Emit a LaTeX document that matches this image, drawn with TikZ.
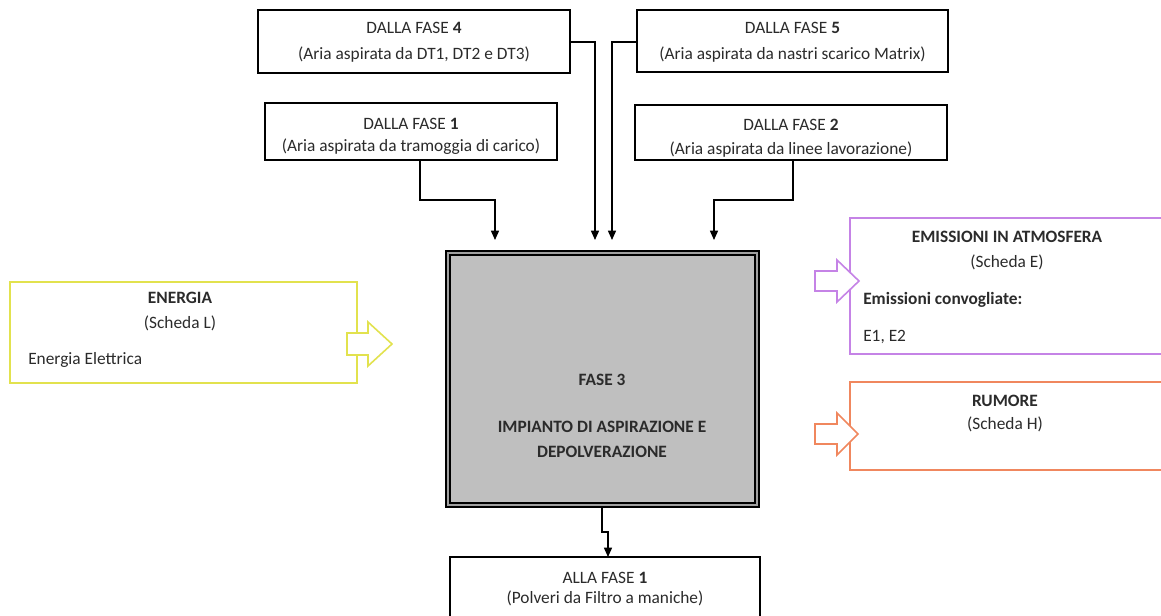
\documentclass[tikz,border=0pt]{standalone}
\usepackage{fontspec}
\setmainfont{Carlito}
\usetikzlibrary{arrows.meta}
\definecolor{txt}{HTML}{2B2B2B}
\definecolor{ylw}{HTML}{E2E24E}
\definecolor{prp}{HTML}{C583E6}
\definecolor{org}{HTML}{F0875E}
\definecolor{gfill}{HTML}{BFBFBF}
\definecolor{gband}{HTML}{A0A0A0}
\begin{document}
\begin{tikzpicture}[x=0.75pt,y=-0.75pt,
  sz/.style 2 args={minimum width=#1*0.75pt, minimum height=#2*0.75pt},
  boxn/.style={draw=black, line width=1.1pt, fill=white, inner sep=0pt, outer sep=0pt, rectangle},
  colbox/.style={draw=#1, line width=1.3pt, fill=white, inner sep=0pt, outer sep=0pt, rectangle},
  txtn/.style={text=txt, inner sep=0pt, font=\fontsize{13}{15}\selectfont},
  btxt/.style={txtn, font=\fontsize{13}{15}\selectfont\bfseries},
  arr/.style={draw=black, line width=1.1pt, -{Triangle[length=7pt,width=6pt]}},
  blockarr/.style={draw=#1, line width=1.2pt, fill=white, line join=miter}
]
\useasboundingbox (0,0) rectangle (1161,615);
\clip (0,0) rectangle (1161,615);

% top boxes
\node[boxn, sz={312}{63}] (f4) at (414,41.5) {};
\node[boxn, sz={311}{62}] (f5) at (792.5,41) {};
\node[boxn, sz={292}{57}] (f1) at (411,131.5) {};
\node[boxn, sz={312}{55}] (f2) at (791,132.5) {};

\node[txtn] (f4a) at (414,28) {DALLA FASE \textbf{4}};
\node[txtn] (f4b) at (414,55) {(Aria aspirata da DT1, DT2 e DT3)};
\node[txtn] (f5a) at (792.5,28) {DALLA FASE \textbf{5}};
\node[txtn] (f5b) at (792.5,55) {(Aria aspirata da nastri scarico Matrix)};
\node[txtn] (f1a) at (411,124) {DALLA FASE \textbf{1}};
\node[txtn] (f1b) at (411,147) {(Aria aspirata da tramoggia di carico)};
\node[txtn] (f2a) at (791,125) {DALLA FASE \textbf{2}};
\node[txtn] (f2b) at (791,150) {(Aria aspirata da linee lavorazione)};

% central box
\node[draw=black, line width=1.1pt, fill=gband, inner sep=0pt, outer sep=0pt, sz={313}{256}] (f3) at (602.5,379) {};
\node[draw=black, line width=1.1pt, fill=gfill, inner sep=0pt, outer sep=0pt, sz={305}{248}] (f3i) at (602.5,379) {};
\node[btxt] (f3a) at (602,380) {FASE 3};
\node[btxt] (f3b) at (602,427) {IMPIANTO DI ASPIRAZIONE E};
\node[btxt] (f3c) at (602,452) {DEPOLVERAZIONE};

% energy box
\node[colbox=ylw, sz={347}{101}] (en) at (183.5,332.5) {};
\node[btxt] (ena) at (180,298) {ENERGIA};
\node[txtn] (enb) at (180,323) {(Scheda L)};
\node[txtn, anchor=west] (enc) at (28,360) {Energia Elettrica};

% emissions box
\node[colbox=prp, sz={314}{136}] (em) at (1007,286) {};
\node[btxt] (ema) at (1007,237) {EMISSIONI IN ATMOSFERA};
\node[txtn] (emb) at (1007,262) {(Scheda E)};
\node[btxt, anchor=west] (emc) at (863,300) {Emissioni convogliate:};
\node[txtn, anchor=west] (emd) at (863,337) {E1, E2};

% noise box
\node[colbox=org, sz={314}{88}] (ru) at (1007,426) {};
\node[btxt] (rua) at (1005,401) {RUMORE};
\node[txtn] (rub) at (1005,424) {(Scheda H)};

% output box
\node[boxn, sz={310}{62}] (out) at (605,588) {};
\node[txtn] (outa) at (605,578) {ALLA FASE \textbf{1}};
\node[txtn] (outb) at (605,598) {(Polveri da Filtro a maniche)};

% connectors
\coordinate (b1) at (420,200);
\coordinate (t1) at (495,240);
\draw[arr] (f1.south -| b1) |- (b1 -| t1) -- (t1);

\coordinate (b4) at (595,42);
\coordinate (t4) at (595,240);
\draw[arr] (f4.east |- b4) -- (b4) -- (t4);

\coordinate (b5) at (612,42);
\coordinate (t5) at (612,240);
\draw[arr] (f5.west |- b5) -- (b5) -- (t5);

\coordinate (b2) at (793,200);
\coordinate (t2) at (714,240);
\draw[arr] (f2.south -| b2) |- (b2 -| t2) -- (t2);

\coordinate (bo1) at (602,532);
\coordinate (bo2) at (608,532);
\draw[arr] (f3.south -| bo1) -- (bo1) -- (bo2) -- (bo2 |- out.north);

% block arrows
\draw[blockarr=ylw] (347,333) -- (368,333) -- (368,322) -- (392,344) -- (368,366) -- (368,355) -- (347,355) -- cycle;
\draw[blockarr=prp] (815,271) -- (837,271) -- (837,260) -- (859,281) -- (837,302) -- (837,291) -- (815,291) -- cycle;
\draw[blockarr=org] (815,424) -- (837,424) -- (837,413) -- (858,434) -- (837,455) -- (837,444) -- (815,444) -- cycle;
\end{tikzpicture}
\end{document}
